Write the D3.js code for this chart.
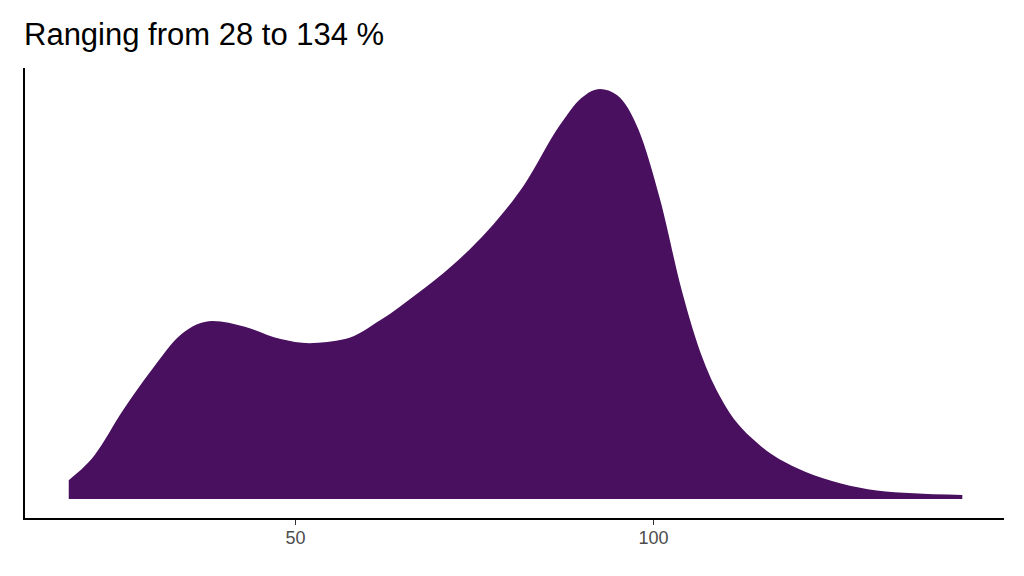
<!DOCTYPE html>
<html><head><meta charset="utf-8">
<script src="https://cdn.jsdelivr.net/npm/d3@7"></script>
<style>body{margin:0;background:#fff}</style>
</head><body>
<svg id="chart" width="1024" height="576"></svg>
<script>
// density curve (x value, relative height)
var xs = [18.4, 22, 26, 30, 34, 38.5, 43, 48, 52, 57, 62, 67, 72, 77, 82, 87, 90, 92.6, 95, 98, 101, 104, 107, 110, 115, 120, 125, 130, 135, 143.2];
var dens = [0.046, 0.107, 0.217, 0.315, 0.40, 0.434, 0.42, 0.39, 0.38, 0.39, 0.437, 0.50, 0.57, 0.656, 0.766, 0.912, 0.978, 1.0, 0.985, 0.90, 0.73, 0.51, 0.34, 0.23, 0.13, 0.076, 0.044, 0.024, 0.015, 0.01];
var xTicks = [50, 100];
var title = "Ranging from 28 to 134 %";

var svg = d3.select("#chart");
var x = d3.scaleLinear().domain([50, 100]).range([295, 653]);
var y = d3.scaleLinear().domain([0, 1]).range([499, 89]);
var data = xs.map((v, i) => ({x: v, d: dens[i]}));

var area = d3.area()
  .x(d => x(d.x))
  .y0(y(0))
  .y1(d => y(d.d))
  .curve(d3.curveMonotoneX);

svg.append("path").datum(data)
  .attr("d", area)
  .attr("fill", "#48105e");

// axes
var xAxis = d3.axisBottom(x).tickValues(xTicks).tickSize(6).tickPadding(6);
var gx = svg.append("g").attr("transform", "translate(0,519)").call(xAxis);
gx.select(".domain").remove();
gx.selectAll("line").attr("stroke", "#333");
gx.selectAll("text").attr("font-family", "Liberation Sans, Arial, sans-serif")
  .attr("font-size", 18).attr("fill", "#4d4d4d");

svg.append("line").attr("x1", 24).attr("x2", 1004).attr("y1", 519).attr("y2", 519)
  .attr("stroke", "#000").attr("stroke-width", 2);
svg.append("line").attr("x1", 24).attr("x2", 24).attr("y1", 68).attr("y2", 520)
  .attr("stroke", "#000").attr("stroke-width", 2);

svg.append("text").attr("x", 24).attr("y", 45)
  .attr("font-family", "Liberation Sans, Arial, sans-serif")
  .attr("font-size", 31).attr("fill", "#000").text(title);
</script>
</body></html>
